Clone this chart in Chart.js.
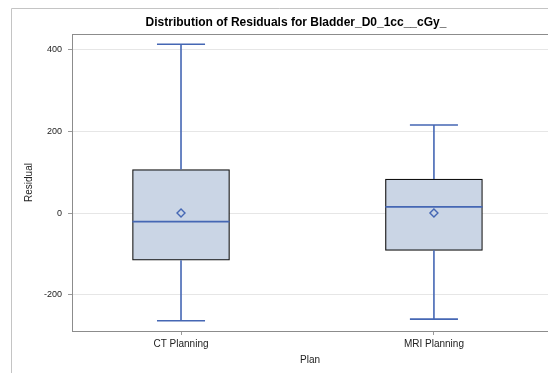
<!DOCTYPE html>
<html>
<head>
<meta charset="utf-8">
<script src="https://cdn.jsdelivr.net/npm/chart.js@4/dist/chart.umd.min.js"></script>
<style>
  html, body { margin: 0; padding: 0; background: #fff; }
  #wrap { position: relative; width: 548px; height: 373px; overflow: hidden; }
</style>
</head>
<body>
<div id="wrap"><canvas id="c" width="548" height="373"></canvas></div>
<script>
// ---- data ----
const categories = ['CT Planning', 'MRI Planning'];
const whiskerMin = [-263, -259];
const q1 = [-115, -91];
const median = [-21, 15];
const q3 = [106, 83];
const whiskerMax = [412, 215];
const means = [0, 0];
const yTicks = [-200, 0, 200, 400];
const chartTitle = 'Distribution of Residuals for Bladder_D0_1cc__cGy_';
const xTitle = 'Plan';
const yTitle = 'Residual';

// ---- styling constants ----
const BLUE = '#4567b4';
const FONT = "'Liberation Sans', Arial, Helvetica, sans-serif";
const BOX_HALF = 0.192;   // in x-axis units
const CAP_HALF = 0.095;

// build datasets from the arrays
const boxData = categories.map((c, i) => ({ x: i, y: [q1[i], q3[i]] }));
const whiskerData = [];
const capData = [];
const medianData = [];
categories.forEach((c, i) => {
  whiskerData.push({ x: i, y: q3[i] }, { x: i, y: whiskerMax[i] }, { x: i, y: null },
                   { x: i, y: q1[i] }, { x: i, y: whiskerMin[i] }, { x: i, y: null });
  capData.push({ x: i - CAP_HALF, y: whiskerMax[i] }, { x: i + CAP_HALF, y: whiskerMax[i] }, { x: i, y: null },
               { x: i - CAP_HALF, y: whiskerMin[i] }, { x: i + CAP_HALF, y: whiskerMin[i] }, { x: i, y: null });
  medianData.push({ x: i - BOX_HALF, y: median[i] }, { x: i + BOX_HALF, y: median[i] }, { x: i, y: null });
});
const meanData = categories.map((c, i) => ({ x: i, y: means[i] }));

const decor = {
  id: 'decor',
  beforeDraw(chart) {
    const ctx = chart.ctx;
    ctx.save();
    ctx.fillStyle = '#fff';
    ctx.fillRect(0, 0, chart.width, chart.height);
    // outer frame
    ctx.strokeStyle = '#c4c4c4';
    ctx.lineWidth = 1;
    ctx.beginPath();
    ctx.moveTo(11.5, chart.height);
    ctx.lineTo(11.5, 8.5);
    ctx.lineTo(chart.width, 8.5);
    ctx.stroke();
    ctx.restore();
  },
  afterDraw(chart) {
    const ctx = chart.ctx;
    const a = chart.chartArea;
    ctx.save();
    ctx.strokeStyle = '#8c8c8c';
    ctx.lineWidth = 1;
    ctx.beginPath();
    ctx.moveTo(a.left, Math.round(a.top) + 0.5);
    ctx.lineTo(a.right, Math.round(a.top) + 0.5);
    ctx.stroke();
    // chart title
    ctx.fillStyle = '#000';
    ctx.font = 'bold 12px ' + FONT;
    ctx.textAlign = 'center';
    ctx.textBaseline = 'middle';
    ctx.fillText(chartTitle, 296, 23);
    ctx.restore();
  }
};

new Chart(document.getElementById('c'), {
  type: 'bar',
  data: {
    datasets: [
      { type: 'bar', data: boxData, backgroundColor: '#cad5e5', borderColor: '#111',
        borderWidth: 1.2, borderSkipped: false, barThickness: 97, order: 5 },
      { type: 'line', data: whiskerData, borderColor: BLUE, borderWidth: 1.6,
        pointRadius: 0, spanGaps: false, fill: false, order: 4 },
      { type: 'line', data: capData, borderColor: BLUE, borderWidth: 1.6,
        pointRadius: 0, spanGaps: false, fill: false, order: 3 },
      { type: 'line', data: medianData, borderColor: BLUE, borderWidth: 1.6,
        pointRadius: 0, spanGaps: false, fill: false, order: 2 },
      { type: 'scatter', data: meanData, pointStyle: 'rectRot', pointRadius: 4,
        borderColor: BLUE, backgroundColor: 'rgba(255,255,255,0)', pointBorderWidth: 1.4, borderWidth: 1.4, order: 1 }
    ]
  },
  options: {
    responsive: false,
    animation: false,
    devicePixelRatio: 1,
    layout: { autoPadding: false, padding: { top: 34, right: 0, bottom: 0, left: 0 } },
    plugins: { legend: { display: false }, tooltip: { enabled: false }, title: { display: false } },
    scales: {
      x: {
        type: 'linear',
        min: -0.431,
        max: 1.451,
        offset: false,
        afterFit(s) { s.height = 42; s.paddingLeft = 0; s.paddingRight = 0; },
        afterBuildTicks(s) { s.ticks = categories.map((c, i) => ({ value: i })); },
        grid: { display: true, drawOnChartArea: false, drawTicks: true, tickLength: 4,
                tickColor: '#9a9a9a', offset: false },
        border: { display: true, color: '#8c8c8c', width: 1 },
        ticks: { autoSkip: false, maxRotation: 0, padding: 3, color: '#222',
                 font: { family: FONT, size: 10 },
                 callback: (v) => categories[v] },
        title: { display: true, text: xTitle, color: '#222', font: { family: FONT, size: 10 },
                 padding: { top: 0, bottom: 7 } }
      },
      y: {
        type: 'linear',
        min: -288,
        max: 437,
        afterFit(s) { s.width = 72; s.paddingTop = 0; s.paddingBottom = 0; },
        afterBuildTicks(s) { s.ticks = yTicks.map(v => ({ value: v })); },
        grid: { color: '#e6e6e6', lineWidth: 1, drawTicks: true, tickLength: 4, tickColor: '#9a9a9a' },
        border: { display: true, color: '#8c8c8c', width: 1 },
        ticks: { padding: 6, color: '#222', font: { family: FONT, size: 9 } },
        title: { display: true, text: yTitle, color: '#222', font: { family: FONT, size: 10 },
                 padding: { top: 23, bottom: 0 } }
      }
    }
  },
  plugins: [decor]
});
</script>
</body>
</html>
